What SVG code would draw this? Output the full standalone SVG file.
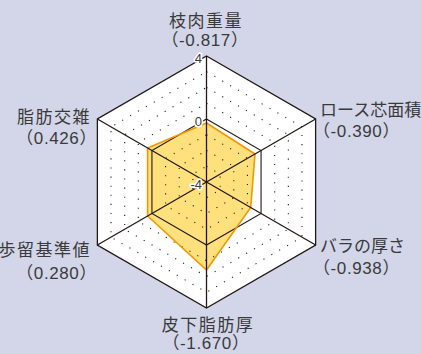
<svg xmlns="http://www.w3.org/2000/svg" width="421" height="354" viewBox="0 0 421 354">
<style>
.lbl{font-family:"Liberation Sans","Noto Sans CJK JP",sans-serif;font-size:17px;fill:#3a3a3a;letter-spacing:1.5px}
.kana{letter-spacing:0px}
.num{font-family:"Liberation Sans","Noto Sans CJK JP",sans-serif;font-size:17px;fill:#3a3a3a;letter-spacing:0.6px}
.tick{font-family:"Liberation Sans",sans-serif;font-size:13px;fill:#3a3a3a;stroke:#ffffff;stroke-width:3px;stroke-linejoin:round;paint-order:stroke;text-anchor:end}
.dot{fill:none;stroke:#231815;stroke-width:1.1;stroke-dasharray:1.1 8;stroke-linecap:butt}
.solid{fill:none;stroke:#231815;stroke-width:1.1}
</style>
<rect x="0" y="0" width="421" height="354" fill="#D3D6E9"/>
<g id="chart">
<polygon points="206.5,56 315.62,119 315.62,245 206.5,308 97.38,245 97.38,119" fill="#ffffff"/>
<polygon id="data-fill" points="206.5,123 255,154 250.7,207.5 206.5,270 147.6,216 147.6,148" fill="#FEE17D"/>
<g id="grid">
<polygon class="dot" points="206.5,166.25 220.14,174.13 220.14,189.88 206.5,197.75 192.86,189.88 192.86,174.13"/>
<polygon class="dot" points="206.5,150.5 233.78,166.25 233.78,197.75 206.5,213.5 179.22,197.75 179.22,166.25"/>
<polygon class="dot" points="206.5,134.75 247.42,158.38 247.42,205.63 206.5,229.25 165.58,205.63 165.58,158.38"/>
<polygon class="dot" points="206.5,103.25 274.7,142.63 274.7,221.38 206.5,260.75 138.3,221.38 138.3,142.63"/>
<polygon class="dot" points="206.5,87.5 288.34,134.75 288.34,229.25 206.5,276.5 124.66,229.25 124.66,134.75"/>
<polygon class="dot" points="206.5,71.75 301.98,126.88 301.98,237.13 206.5,292.25 111.02,237.13 111.02,126.88"/>
<polygon class="solid" points="206.5,119 261.06,150.5 261.06,213.5 206.5,245 151.94,213.5 151.94,150.5"/>
</g>
<polygon id="data-line" points="206.5,123 255,154 250.7,207.5 206.5,270 147.6,216 147.6,148" fill="none" stroke="#F39800" stroke-width="1.6" stroke-linejoin="miter"/>
<g id="axes">
<line x1="206.5" y1="56" x2="206.5" y2="308" stroke="#231815" stroke-width="1.3"/>
<line x1="315.62" y1="119" x2="97.38" y2="245" stroke="#231815" stroke-width="1.3"/>
<line x1="315.62" y1="245" x2="97.38" y2="119" stroke="#231815" stroke-width="1.3"/>
</g>
<polygon points="206.5,56 315.62,119 315.62,245 206.5,308 97.38,245 97.38,119" fill="none" stroke="#231815" stroke-width="1.3"/>
<text class="tick" x="202" y="63">4</text>
<text class="tick" x="202" y="126">0</text>
<text class="tick" x="202" y="188.5">-4</text>
</g>
<g id="node-top">
<text class="lbl" x="206" y="27" text-anchor="middle">枝肉重量</text>
<text class="num" x="205" y="46" text-anchor="middle">（-0.817）</text>
</g>
<g id="node-upper-right">
<text class="lbl kana" x="320" y="116">ロース芯面積</text>
<text class="num" x="313" y="137">（-0.390）</text>
</g>
<g id="node-lower-right">
<text class="lbl kana" x="320" y="252">バラの厚さ</text>
<text class="num" x="313" y="274">（-0.938）</text>
</g>
<g id="node-bottom">
<text class="lbl" x="208" y="331" text-anchor="middle">皮下脂肪厚</text>
<text class="num" x="206" y="349" text-anchor="middle">（-1.670）</text>
</g>
<g id="node-lower-left">
<text class="lbl" x="91" y="256" text-anchor="end">歩留基準値</text>
<text class="num" x="97" y="279" text-anchor="end">（0.280）</text>
</g>
<g id="node-upper-left">
<text class="lbl" x="91" y="123" text-anchor="end">脂肪交雑</text>
<text class="num" x="97" y="144" text-anchor="end">（0.426）</text>
</g>
</svg>
